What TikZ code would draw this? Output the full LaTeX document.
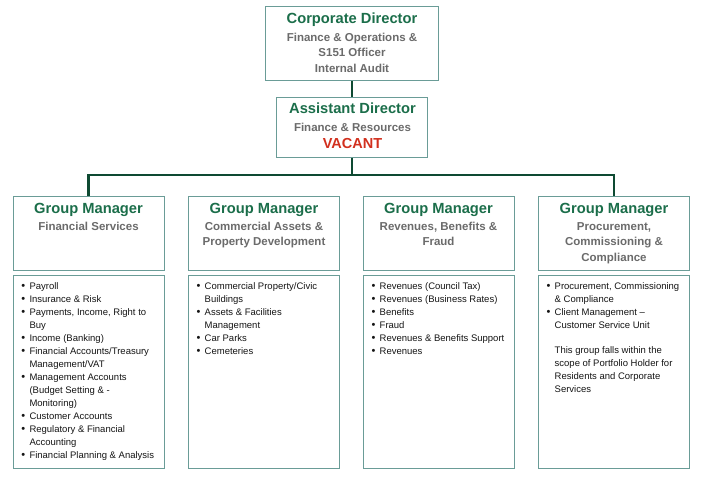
\documentclass[tikz,border=0pt]{standalone}
\usepackage{fontspec}
\setmainfont{Liberation Sans}
\definecolor{tgreen}{HTML}{1B6E4A}
\definecolor{sgray}{HTML}{6B6B6B}
\definecolor{bord}{HTML}{6A9C97}
\definecolor{connc}{HTML}{0E4A32}
\definecolor{vred}{HTML}{D2301E}
\definecolor{ltxt}{HTML}{151515}
\newcommand\ttl[1]{{\fontsize{14.7}{15.5}\selectfont\bfseries\color{tgreen}#1}}
\newcommand\subt[1]{{\fontsize{11.5}{15.5}\selectfont\bfseries\color{sgray}#1}}
\newcommand\vac[1]{{\fontsize{14.5}{15.5}\selectfont\bfseries\color{vred}#1}}
\newcommand\bu{\llap{\raisebox{-0.6pt}{\fontsize{11}{13}\selectfont\textbullet}\hspace{4.35pt}}}
\tikzset{
  box/.style={draw=bord, line width=1pt, inner sep=0pt, fill=white},
  connline/.style={draw=connc, line width=2.2pt},
  hd/.style={inner sep=0pt, anchor=base, font=\fontsize{11.5}{15.5}\selectfont},
  lst/.style={inner sep=0pt, anchor=base west, text=ltxt, font=\fontsize{9.5}{13}\selectfont},
}
\begin{document}
\begin{tikzpicture}[x=1pt, y=-1pt]
\useasboundingbox[fill=white] (0,0) rectangle (701,487);
% boxes
\node[box, minimum width=173pt, minimum height=74pt] (corp) at (352,43.5) {};
\node[box, minimum width=151pt, minimum height=60pt] (asst) at (352,127) {};
\node[box, minimum width=151pt, minimum height=74pt] (g1) at (88.5,233) {};
\node[box, minimum width=151pt, minimum height=74pt] (g2) at (264,233) {};
\node[box, minimum width=151pt, minimum height=74pt] (g3) at (438.5,233) {};
\node[box, minimum width=151pt, minimum height=74pt] (g4) at (614,233) {};
\node[box, minimum width=151pt, minimum height=193pt] (l1) at (88.5,371.5) {};
\node[box, minimum width=151pt, minimum height=193pt] (l2) at (264,371.5) {};
\node[box, minimum width=151pt, minimum height=193pt] (l3) at (438.5,371.5) {};
\node[box, minimum width=151pt, minimum height=193pt] (l4) at (614,371.5) {};
% connectors
\coordinate (bus) at (352,175);
\draw[connline] (corp.south) -- (asst.north);
\draw[connline] (asst.south) -- (bus);
\draw[connline, line join=miter] (g1.north) -- (g1.north |- bus) -- (g4.north |- bus) -- (g4.north);
% headings
\node[hd] (corpT) at (352,23.3) {\begin{tabular}[t]{@{}c@{}}\ttl{Corporate Director}\\[2.3pt]
  \subt{Finance \& Operations \&}\\ \subt{S151 Officer}\\ \subt{Internal Audit}\end{tabular}};
\node[hd] (asstT) at (352.5,113.3) {\begin{tabular}[t]{@{}c@{}}\ttl{Assistant Director}\\[2.3pt]
  \subt{Finance \& Resources}\\[1.7pt] \vac{VACANT}\end{tabular}};
\node[hd] (g1T) at (88.5,213.3) {\begin{tabular}[t]{@{}c@{}}\ttl{Group Manager}\\[1.3pt]
  \subt{Financial Services}\end{tabular}};
\node[hd] (g2T) at (264,213.3) {\begin{tabular}[t]{@{}c@{}}\ttl{Group Manager}\\[1.3pt]
  \subt{Commercial Assets \&}\\ \subt{Property Development}\end{tabular}};
\node[hd] (g3T) at (438.5,213.3) {\begin{tabular}[t]{@{}c@{}}\ttl{Group Manager}\\[1.3pt]
  \subt{Revenues, Benefits \&}\\ \subt{Fraud}\end{tabular}};
\node[hd] (g4T) at (614,213.3) {\begin{tabular}[t]{@{}c@{}}\ttl{Group Manager}\\[1.3pt]
  \subt{Procurement,}\\ \subt{Commissioning \&}\\ \subt{Compliance}\end{tabular}};
% lists
\node[lst] (l1T) at (29.3,289) {\begin{tabular}[t]{@{}l@{}}
  \bu Payroll\\
  \bu Insurance \& Risk\\
  \bu Payments, Income, Right to\\
  Buy\\
  \bu Income (Banking)\\
  \bu Financial Accounts/Treasury\\
  Management/VAT\\
  \bu Management Accounts\\
  (Budget Setting \& -\\
  Monitoring)\\
  \bu Customer Accounts\\
  \bu Regulatory \& Financial\\
  Accounting\\
  \bu Financial Planning \& Analysis
  \end{tabular}};
\node[lst] (l2T) at (204.5,289) {\begin{tabular}[t]{@{}l@{}}
  \bu Commercial Property/Civic\\
  Buildings\\
  \bu Assets \& Facilities\\
  Management\\
  \bu Car Parks\\
  \bu Cemeteries
  \end{tabular}};
\node[lst] (l3T) at (379.5,289) {\begin{tabular}[t]{@{}l@{}}
  \bu Revenues (Council Tax)\\
  \bu Revenues (Business Rates)\\
  \bu Benefits\\
  \bu Fraud\\
  \bu Revenues \& Benefits Support\\
  \bu Revenues
  \end{tabular}};
\node[lst] (l4T) at (554.5,289) {\begin{tabular}[t]{@{}l@{}}
  \bu Procurement, Commissioning\\
  \& Compliance\\
  \bu Client Management –\\
  Customer Service Unit\\[12pt]
  This group falls within the\\
  scope of Portfolio Holder for\\
  Residents and Corporate\\
  Services
  \end{tabular}};
\end{tikzpicture}
\end{document}
